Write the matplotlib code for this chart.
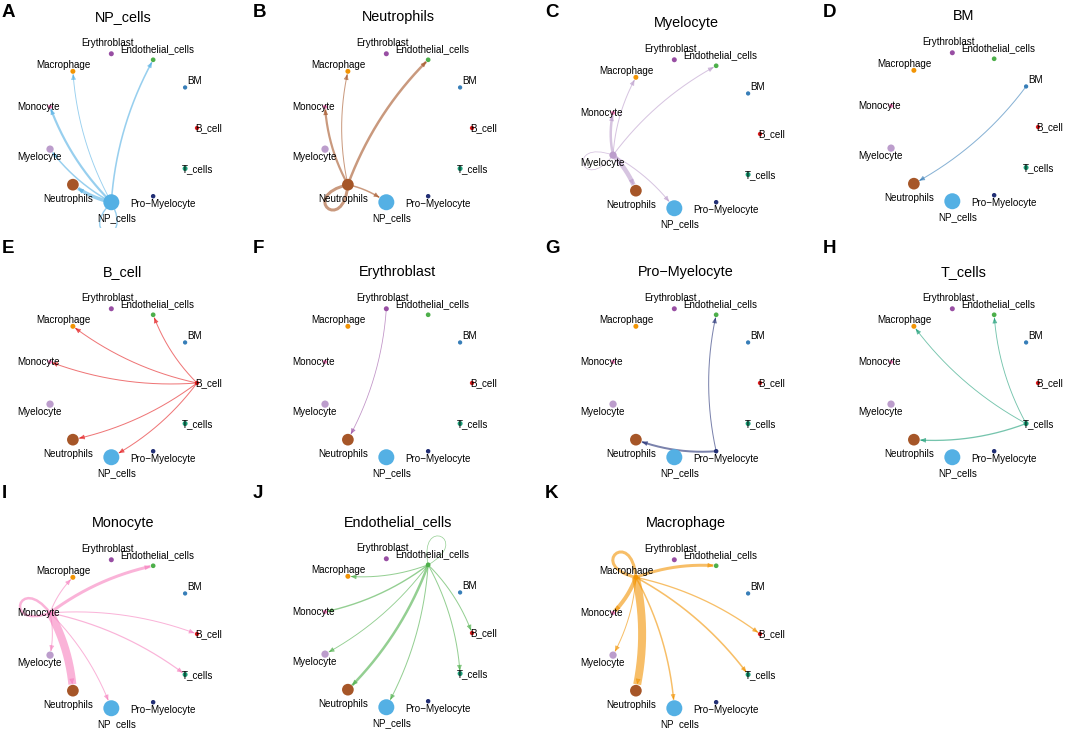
import numpy as np
import matplotlib
matplotlib.use("Agg")
import matplotlib.pyplot as plt
from matplotlib.patches import Circle, PathPatch
from matplotlib.path import Path

plt.rcParams['font.family'] = ['Liberation Sans', 'DejaVu Sans']

# Cell groups (circle layout order) and their look
cell_types = ["B_cell", "BM", "Endothelial_cells", "Erythroblast", "Macrophage",
              "Monocyte", "Myelocyte", "Neutrophils", "NP_cells", "Pro-Myelocyte", "T_cells"]
cell_labels = [c.replace("-", "\u2212") for c in cell_types]
node_colors = ["#E41A1C", "#377EB8", "#4DAF4A", "#984EA3", "#F29403",
               "#F781BF", "#BC9DCC", "#A65628", "#54B0E4", "#222F75", "#1B9E77"]
node_size = [4.3, 4.3, 4.7, 5.0, 5.0, 4.0, 7.3, 11.7, 16.0, 4.5, 5.0]

# One panel per sender
panel_letters = list("ABCDEFGHIJK")
panel_sources = ["NP_cells", "Neutrophils", "Myelocyte", "BM",
                 "B_cell", "Erythroblast", "Pro-Myelocyte", "T_cells",
                 "Monocyte", "Endothelial_cells", "Macrophage"]
panel_cx = [122, 397, 685, 963, 122, 397, 685, 963, 122, 397, 685]
panel_cy = [128, 128, 134, 127, 383, 383, 383, 383, 634, 633, 634]

# Outgoing interaction strength of each sender (edge width scale)
edge_targets = [
    ["Endothelial_cells", "Macrophage", "Monocyte", "Myelocyte", "Neutrophils", "NP_cells"],
    ["Endothelial_cells", "Macrophage", "Monocyte", "NP_cells", "Neutrophils"],
    ["Monocyte", "Macrophage", "Endothelial_cells", "Neutrophils", "NP_cells", "Myelocyte"],
    ["Neutrophils"],
    ["Endothelial_cells", "Macrophage", "Monocyte", "Neutrophils", "NP_cells"],
    ["Neutrophils"],
    ["Endothelial_cells", "Neutrophils"],
    ["Macrophage", "Endothelial_cells", "Neutrophils"],
    ["Endothelial_cells", "Macrophage", "Myelocyte", "Neutrophils", "NP_cells", "B_cell", "T_cells", "Monocyte"],
    ["Macrophage", "Monocyte", "Myelocyte", "Neutrophils", "NP_cells", "B_cell", "T_cells", "Endothelial_cells"],
    ["Endothelial_cells", "Monocyte", "Myelocyte", "Neutrophils", "NP_cells", "B_cell", "T_cells", "Macrophage"],
]
edge_weights = [
    [1.6, 0.9, 2.2, 1.5, 3.5, 1.4],
    [2.5, 1.0, 2.2, 1.5, 3.0],
    [2.5, 1.0, 1.0, 4.5, 1.0, 0.8],
    [1.0],
    [1.0, 1.0, 1.0, 1.0, 1.0],
    [0.8],
    [1.0, 2.0],
    [0.9, 0.9, 1.3],
    [3.0, 1.0, 1.0, 8.0, 1.0, 1.0, 1.2, 2.5],
    [1.0, 1.4, 0.9, 2.5, 1.0, 1.0, 1.0, 0.7],
    [3.0, 4.0, 1.0, 8.0, 1.5, 1.3, 1.6, 3.0],
]

W, H = 1065, 729
R = 75.0          # circle radius in pixels
CURVE = 0.11      # edge curvature

fig = plt.figure(figsize=(W / 100, H / 100), dpi=100)

n = len(cell_types)
theta = 2 * np.pi * np.arange(n) / n
label_theta = 2 * np.pi * np.arange(n) / (n - 1)
node_x = np.cos(theta)
node_y = np.sin(theta)
node_r = np.array(node_size) / 2 / R

t_grid = np.linspace(0, 1, 400)


def draw_edge(ax, s, j, w, color):
    p0 = np.array([node_x[s], node_y[s]])
    p2 = np.array([node_x[j], node_y[j]])
    d = p2 - p0
    p1 = (p0 + p2) / 2 + CURVE * np.array([-d[1], d[0]])
    pts = ((1 - t_grid)[:, None] ** 2 * p0 + 2 * (t_grid * (1 - t_grid))[:, None] * p1
           + (t_grid ** 2)[:, None] * p2)
    dist = np.hypot(pts[:, 0] - p2[0], pts[:, 1] - p2[1])
    end = np.argmax(dist <= node_r[j] + 0.6 / R)
    ax.plot(pts[:end + 1, 0], pts[:end + 1, 1], color=color, alpha=0.6,
            lw=w * 0.72, solid_capstyle='butt', zorder=1)
    back = max(end - 10, 0)
    ax.annotate("", xy=pts[end], xytext=pts[back],
                arrowprops=dict(arrowstyle="-|>,head_length=0.5,head_width=0.22",
                                color=color, alpha=0.6, lw=0.5,
                                shrinkA=0, shrinkB=0, mutation_scale=6.5),
                zorder=2)


def draw_loop(ax, s, w, color):
    c = np.array([node_x[s], node_y[s]])
    u = c / np.hypot(*c)
    v = np.array([-u[1], u[0]])
    verts = [c, c + 0.55 * u + 0.4 * v, c + 0.55 * u - 0.4 * v, c]
    path = Path(verts, [Path.MOVETO, Path.CURVE4, Path.CURVE4, Path.CURVE4])
    ax.add_patch(PathPatch(path, facecolor='none', edgecolor=color, alpha=0.6,
                           lw=w * 0.72, zorder=1))


for k, src in enumerate(panel_sources):
    cx, cy = panel_cx[k], panel_cy[k]
    ax = fig.add_axes([(cx - 125) / W, (H - (cy + 100)) / H, 250 / W, 218 / H])
    ax.set_xlim(-125 / R, 125 / R)
    ax.set_ylim(-100 / R, 118 / R)
    ax.axis('off')

    s = cell_types.index(src)
    col = node_colors[s]
    for tgt, w in zip(edge_targets[k], edge_weights[k]):
        j = cell_types.index(tgt)
        if j == s:
            draw_loop(ax, s, w, col)
        else:
            draw_edge(ax, s, j, w, col)

    for i in range(n):
        ax.add_patch(Circle((node_x[i], node_y[i]), node_r[i], facecolor=node_colors[i],
                            edgecolor='none', zorder=3))
        dist = (10.5 + 0.33 * node_size[i]) / R
        lx = node_x[i] + dist * np.cos(label_theta[i])
        ly = node_y[i] + dist * np.sin(label_theta[i]) - 3.5 / R
        ax.text(lx, ly, cell_labels[i], ha='center', va='baseline',
                fontsize=7.1, color='black', zorder=4)

    ax.text(1.0 / R, 107 / R, cell_labels[s], ha='center', va='baseline',
            fontsize=10.4, color='black')

    row, colno = k // 4, k % 4
    fig.text([2, 253, 545, 823][colno] / W, 1 - [17, 253, 498][row] / H,
             panel_letters[k], ha='left', va='baseline', fontsize=13.5,
             fontweight='bold')

fig.savefig("out.png", dpi=100)
